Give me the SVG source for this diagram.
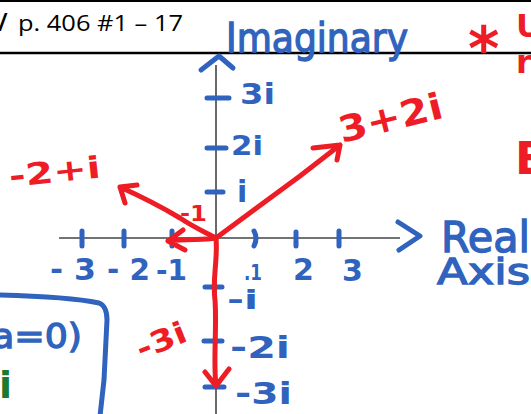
<svg xmlns="http://www.w3.org/2000/svg" width="531" height="414" viewBox="0 0 531 414">
<style>
.b{fill:#2F63BE;font-family:"DejaVu Sans",sans-serif}
.bk{stroke:#2F63BE;stroke-width:1.3}
.r{fill:#EE1D25;font-family:"DejaVu Sans",sans-serif}
.g{fill:#1B7A30;font-family:"DejaVu Sans",sans-serif}
.bs{fill:none;stroke:#2F63BE;stroke-width:5;stroke-linecap:round;stroke-linejoin:round}
.rs{fill:none;stroke:#EE1D25;stroke-width:5;stroke-linecap:round;stroke-linejoin:round}
.ax{stroke:#444;stroke-width:1.6;fill:none}
</style>
<rect width="531" height="414" fill="#fff"/>
<g id="header">
<line x1="0" y1="1" x2="531" y2="1" stroke="#000" stroke-width="2"/>
<line x1="0" y1="53" x2="531" y2="53" stroke="#000" stroke-width="2.5"/>
<text x="-1" y="31" font-family="Liberation Sans,sans-serif" font-size="23" font-weight="bold" font-style="italic">/</text>
<text x="18" y="31" font-family="Open Sans,sans-serif" font-size="22" textLength="165" lengthAdjust="spacingAndGlyphs">p. 406 #1 – 17</text>
</g>
<g id="axes">
<line class="ax" x1="59" y1="238" x2="400" y2="238"/>
<line class="ax" x1="216" y1="65" x2="216" y2="414"/>
<path class="bs" d="M398,222 L420,236 L399,250"/>
<path class="bs" d="M201,70 L219,56 L233,68"/>
<path class="bs" d="M82,231 L82,246 M124,231 L124,246 M172,231 L172,246 M254,231 Q258,238 254,246 M296,232 L296,246 M339,231 L339,246"/>
<path class="bs" d="M207,98 L229,98 M207,148 L226,148 M207,192 L223,192 M205,287 L222,287 M204,341 L222,341 M205,387 L224,387"/>
</g>
<g id="labels-blue">
<text class="b bk" x="226" y="52" font-size="40" textLength="182" lengthAdjust="spacingAndGlyphs">Imaginary</text>
<text class="b" x="240" y="104" font-size="28" font-weight="bold" textLength="35" lengthAdjust="spacingAndGlyphs">3i</text>
<text class="b" x="231" y="155" font-size="26" font-weight="bold" textLength="32" lengthAdjust="spacingAndGlyphs">2i</text>
<text class="b" x="237" y="202" font-size="30" font-weight="bold">i</text>
<text class="b" x="227" y="309" font-size="26" font-weight="bold" textLength="31" lengthAdjust="spacingAndGlyphs">-i</text>
<text class="b" x="230" y="358" font-size="30" font-weight="bold" textLength="60" lengthAdjust="spacingAndGlyphs">-2i</text>
<text class="b" x="235" y="404" font-size="30" font-weight="bold" textLength="57" lengthAdjust="spacingAndGlyphs">-3i</text>
<text class="b" x="50" y="280" font-size="30" font-weight="bold" textLength="46" lengthAdjust="spacingAndGlyphs">- 3</text>
<text class="b" x="107" y="280" font-size="30" font-weight="bold" textLength="43" lengthAdjust="spacingAndGlyphs">- 2</text>
<text class="b" x="156" y="280" font-size="28" font-weight="bold" textLength="31" lengthAdjust="spacingAndGlyphs">-1</text>
<text class="b" x="244" y="280" font-size="22" font-weight="bold" textLength="18" lengthAdjust="spacingAndGlyphs">.1</text>
<text class="b" x="293" y="280" font-size="30" font-weight="bold">2</text>
<text class="b" x="342" y="281" font-size="30" font-weight="bold">3</text>
<text class="b bk" x="441" y="252" font-size="42" textLength="89" lengthAdjust="spacingAndGlyphs">Real</text>
<text class="b bk" x="437" y="284" font-size="35" textLength="93" lengthAdjust="spacingAndGlyphs">Axis</text>
</g>
<g id="box">
<path class="bs" d="M0,295 C40,296 80,299 99,303 Q107,306 107,320 L104,380 L100,416"/>
<text class="b bk" x="-8" y="348" font-size="34" textLength="90" lengthAdjust="spacingAndGlyphs">a=0)</text>
<text class="g" x="-1" y="398" font-size="38" font-weight="bold">i</text>
</g>
<g id="connectors">
<path class="rs" d="M216,238 C240,220 270,198 300,176 L340,145 M313,148 L340,145 L337,160"/>
<path class="rs" d="M216,238 C205,232 195,228 180,218 C160,206 140,196 120,187 M137,185 L120,187 L125,203"/>
<path class="rs" d="M216,238 C205,240 190,239 168,241 M183,230 L168,241 L185,250"/>
<path class="rs" d="M216,238 C218,260 212,280 215,300 C217,330 213,360 216,386 M205,372 L216,386 L229,369"/>
</g>
<g id="labels-red">
<text class="r" x="342" y="143" font-size="36" font-weight="bold" transform="rotate(-14 342 143)" textLength="106" lengthAdjust="spacingAndGlyphs">3+2i</text>
<text class="r" x="10" y="187" font-size="30" font-weight="bold" transform="rotate(-6 10 187)" textLength="92" lengthAdjust="spacingAndGlyphs">-2+i</text>
<text class="r" x="180" y="221" font-size="22" font-weight="bold" textLength="27" lengthAdjust="spacingAndGlyphs">-1</text>
<text class="r" x="141" y="360" font-size="30" font-weight="bold" transform="rotate(-22 141 360)" textLength="52" lengthAdjust="spacingAndGlyphs">-3i</text>
<text class="r" x="468" y="70" font-size="60" font-weight="bold">*</text>
<text class="r" x="516" y="37" font-size="32" font-weight="bold">U</text>
<text class="r" x="516" y="73" font-size="32" font-weight="bold">r</text>
<text class="r" x="515" y="174" font-size="45" font-weight="bold">E</text>
</g>
</svg>
